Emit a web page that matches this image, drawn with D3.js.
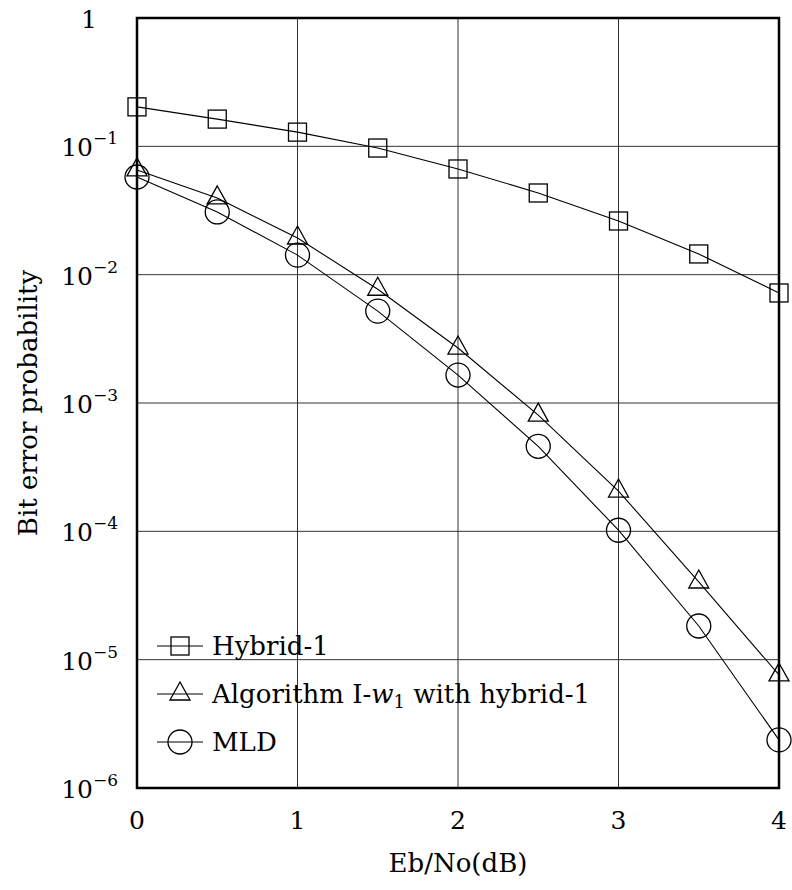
<!DOCTYPE html>
<html>
<head>
<meta charset="utf-8">
<script src="https://cdn.jsdelivr.net/npm/d3@7"></script>
<style>
  body { margin: 0; background: #fff; }
  svg text { font-family: "DejaVu Serif", "Liberation Serif", serif; fill: #000; }
</style>
</head>
<body>
<svg id="chart" width="792" height="890"></svg>
<script>
const ebno = [0, 0.5, 1, 1.5, 2, 2.5, 3, 3.5, 4];
const hybrid1 = [0.203, 0.163, 0.129, 0.097, 0.0666, 0.0433, 0.0262, 0.0145, 0.0072];
const algoW1 = [0.0655, 0.0396, 0.0193, 0.0077, 0.00268, 8.05e-4, 2.06e-4, 4.03e-5, 7.6e-6];
const mld = [0.0577, 0.0308, 0.0142, 0.0052, 0.00165, 4.6e-4, 1.02e-4, 1.83e-5, 2.37e-6];
const xTicks = [0, 1, 2, 3, 4];
const yExps = [0, -1, -2, -3, -4, -5, -6];

const margin = { top: 18, right: 13, bottom: 102, left: 137 },
      width  = 792 - margin.left - margin.right,
      height = 890 - margin.top - margin.bottom;

const svg = d3.select("#chart");
const g = svg.append("g").attr("transform", `translate(${margin.left},${margin.top})`);

const x = d3.scaleLinear().domain([0, 4]).range([0, width]);
const y = d3.scaleLog().domain([1e-6, 1]).range([height, 0]);

// grid
g.selectAll(".vgrid").data(xTicks.slice(1, -1)).enter().append("line")
  .attr("x1", d => x(d)).attr("x2", d => x(d))
  .attr("y1", 0).attr("y2", height)
  .attr("stroke", "#333").attr("stroke-width", 1);
g.selectAll(".hgrid").data(yExps.slice(1, -1)).enter().append("line")
  .attr("x1", 0).attr("x2", width)
  .attr("y1", d => y(Math.pow(10, d))).attr("y2", d => y(Math.pow(10, d)))
  .attr("stroke", "#333").attr("stroke-width", 1);

// x tick labels
g.selectAll(".xt").data(xTicks).enter().append("text")
  .attr("x", d => x(d)).attr("y", height + 41)
  .attr("text-anchor", "middle").attr("font-size", 25)
  .text(d => d);

// y tick labels
yExps.forEach(e => {
  const t = g.append("text")
    .attr("x", -19).attr("y", y(Math.pow(10, e)) + 10)
    .attr("text-anchor", "end").attr("font-size", 25);
  if (e === 0) {
    t.attr("x", -40).attr("y", 10).text("1");
  } else {
    t.append("tspan").text("10");
    t.append("tspan").attr("dy", -12).attr("font-size", 17).text("\u2212" + (-e));
  }
});

// axis titles
svg.append("text")
  .attr("x", margin.left + width / 2).attr("y", 872)
  .attr("text-anchor", "middle").attr("font-size", 26)
  .text("Eb/No(dB)");
svg.append("text")
  .attr("transform", `translate(37, ${margin.top + height / 2}) rotate(-90)`)
  .attr("text-anchor", "middle").attr("font-size", 26)
  .text("Bit error probability");

const line = d3.line().x((d, i) => x(ebno[i])).y(d => y(d));

function drawMarker(sel, type, cx, cy) {
  if (type === "square") {
    sel.append("rect").attr("x", cx - 9).attr("y", cy - 9)
      .attr("width", 18).attr("height", 18);
  } else if (type === "triangle") {
    sel.append("path")
      .attr("d", `M${cx},${cy - 12}L${cx + 10},${cy + 6}L${cx - 10},${cy + 6}Z`);
  } else {
    sel.append("circle").attr("cx", cx).attr("cy", cy).attr("r", 12);
  }
}

const series = [
  { name: "Hybrid-1", values: hybrid1, marker: "square" },
  { name: "Algorithm", values: algoW1, marker: "triangle" },
  { name: "MLD", values: mld, marker: "circle" }
];

series.forEach(s => {
  g.append("path").datum(s.values).attr("d", line)
    .attr("fill", "none").attr("stroke", "#000").attr("stroke-width", 1.1);
  const m = g.append("g").attr("fill", "none").attr("stroke", "#000").attr("stroke-width", 1.3);
  s.values.forEach((v, i) => drawMarker(m, s.marker, x(ebno[i]), y(v)));
});

// frame
g.append("rect").attr("x", 0).attr("y", 0).attr("width", width).attr("height", height)
  .attr("fill", "none").attr("stroke", "#000").attr("stroke-width", 2.5);

// legend
const legRows = [646, 694, 742];
series.forEach((s, i) => {
  const ly = legRows[i];
  svg.append("line").attr("x1", 157).attr("x2", 203).attr("y1", ly).attr("y2", ly)
    .attr("stroke", "#000").attr("stroke-width", 1.2);
  const m = svg.append("g").attr("fill", "none").attr("stroke", "#000").attr("stroke-width", 1.3);
  drawMarker(m, s.marker, 180, ly);
  const t = svg.append("text").attr("x", 212).attr("y", ly + 9).attr("font-size", 26);
  if (i === 1) {
    t.append("tspan").text("Algorithm I-");
    t.append("tspan").attr("font-style", "italic").text("w");
    t.append("tspan").attr("dy", 5).attr("font-size", 18).text("1");
    t.append("tspan").attr("dy", -5).text(" with hybrid-1");
  } else {
    t.text(s.name);
  }
});
</script>
</body>
</html>
